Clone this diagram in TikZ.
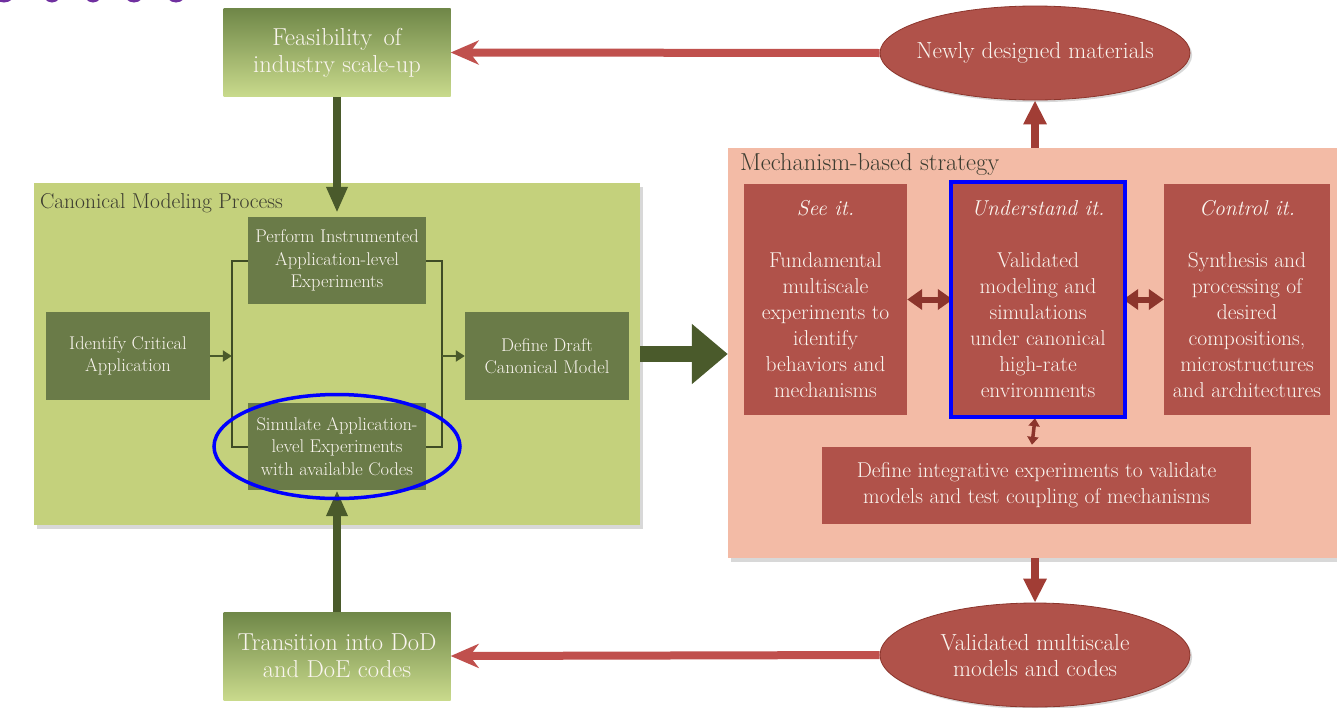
\documentclass[tikz,border=0pt]{standalone}
\usepackage{tikz}
\usetikzlibrary{arrows.meta, shapes.geometric, shadows, fit, calc}

\definecolor{olivebox}{HTML}{6A7B48}
\definecolor{olivearrow}{HTML}{4A5A2B}
\definecolor{olivepanel}{HTML}{C4D17C}
\definecolor{olivetop}{HTML}{6F8748}
\definecolor{olivebottom}{HTML}{C9DA8C}
\definecolor{pinkpanel}{HTML}{F3BBA6}
\definecolor{redfill}{HTML}{B0524A}
\definecolor{redarrow}{HTML}{C0504D}
\definecolor{redvert}{HTML}{A13D35}
\definecolor{darkred}{HTML}{8C352C}
\definecolor{titlepurple}{HTML}{7030A0}
\definecolor{boxtext}{HTML}{FAF5EF}
\definecolor{labeltext}{HTML}{3C3C30}

\begin{document}
\begin{tikzpicture}[x=1pt, y=-1pt,
  panel/.style={inner sep=0pt, drop shadow={shadow xshift=3pt, shadow yshift=-4pt, opacity=0.3}},
  gradbox/.style={top color=olivetop, bottom color=olivebottom, text=boxtext, align=center,
    inner sep=0pt, minimum width=227pt, minimum height=88pt, font=\fontsize{24.5}{27}\selectfont},
  greenbox/.style={fill=olivebox, text=boxtext, align=center, inner sep=0pt,
    font=\fontsize{18.4}{22.5}\selectfont},
  redbox/.style={fill=redfill, text=boxtext, align=center, inner sep=0pt,
    font=\fontsize{21.5}{26}\selectfont},
  oval/.style={ellipse, fill=redfill, draw=darkred, line width=0.8pt, text=boxtext, align=center,
    inner sep=0pt, minimum width=310pt, drop shadow={opacity=0.3}, font=\fontsize{23.3}{26}\selectfont},
  redline/.style={draw=redarrow, line width=8pt, -{Stealth[length=28pt, width=24pt, inset=9pt]}},
  vertline/.style={draw=redvert, line width=8pt, -{Triangle[length=24pt, width=22pt]}},
  oliveline/.style={draw=olivearrow, line width=8pt, -{Triangle[length=26pt, width=20pt]}},
  smallolive/.style={draw=olivearrow, line width=2.5pt, -{Triangle[length=9pt, width=11pt]}},
  bracket/.style={draw=olivearrow!85!black, line width=2pt},
  twoway/.style={draw=darkred, line width=6pt, {Triangle[length=15pt, width=20pt]}-{Triangle[length=15pt, width=20pt]}},
  highlight/.style={draw=blue, line width=4pt}]

\useasboundingbox (0,0) rectangle (1337,707);
\clip (0,0) rectangle (1337,707);
\fill[white] (0,0) rectangle (1337,707);
\foreach \cx/\rx in {4/12, 52/10, 93/10, 134/11, 176/11}
  \fill[titlepurple] (\cx,-9) ellipse [x radius=\rx, y radius=11.5];

\node[panel, fill=olivepanel, minimum width=606pt, minimum height=342pt] (canon) at (337,354) {};
\node[anchor=north west, text=labeltext, font=\fontsize{21.5}{24}\selectfont, inner sep=0pt]
  (canonlabel) at ($(canon.north west)+(6,10)$) {Canonical Modeling Process};
\node[panel, fill=pinkpanel, minimum width=612pt, minimum height=410pt] (mech) at (1034,353) {};
\node[anchor=north west, text=labeltext, font=\fontsize{24.5}{27}\selectfont, inner sep=0pt]
  (mechlabel) at ($(mech.north west)+(12,5)$) {Mechanism-based strategy};

\node[gradbox] (feas) at (337,52.5) {Feasibility\, of\\industry scale-up};
\node[gradbox] (trans) at (337,656) {Transition into DoD\\and DoE codes};

\node[greenbox, minimum width=178pt, minimum height=87pt] (perform) at (337,260.5)
  {Perform Instrumented\\Application-level\\Experiments};
\node[greenbox, minimum width=178pt, minimum height=87pt] (simulate) at (337,446.5)
  {Simulate Application-\\level Experiments\\with available Codes};
\node[greenbox, minimum width=164pt, minimum height=88pt] (identify) at (128,356)
  {Identify Critical\\Application};
\node[greenbox, minimum width=164pt, minimum height=88pt] (draft) at (547,356)
  {Define Draft\\Canonical Model};

\node[redbox, minimum width=163pt, minimum height=231pt] (see) at (825.5,299.5)
  {\textit{See it.}\\[26pt]Fundamental\\multiscale\\experiments to\\identify\\behaviors and\\mechanisms};
\node[redbox, minimum width=170pt, minimum height=231pt] (understand) at (1038,299.5)
  {\textit{Understand it.}\\[26pt]Validated\\modeling and\\simulations\\under canonical\\high-rate\\environments};
\node[redbox, minimum width=166pt, minimum height=231pt] (control) at (1247,299.5)
  {\textit{Control it.}\\[26pt]Synthesis and\\processing of\\desired\\compositions,\\microstructures\\and architectures};
\node[redbox, minimum width=429pt, minimum height=77pt] (integ) at (1036.5,485.5)
  {Define integrative experiments to validate\\models and test coupling of mechanisms};

\node[oval, minimum height=94pt, inner xsep=-10pt] (newly) at (1035,53) {Newly designed materials};
\node[oval, minimum height=104pt] (valid) at (1035,655) {Validated multiscale\\models and codes};

\coordinate (bl) at ($(perform.west)+(-16,0)$);
\coordinate (br) at ($(perform.east)+(16,0)$);
\draw[bracket] (perform.west) -- (bl) |- (simulate.west);
\draw[bracket] (perform.east) -- (br) |- (simulate.east);
\draw[smallolive] (identify.east) -- (identify.east -| bl);
\draw[smallolive] (br |- draft.west) -- (draft.west);

\draw[oliveline] (feas.south) -- ($(perform.north)+(0,-4)$);
\draw[oliveline] (trans.north) -- (simulate.south);
\draw[draw=olivearrow, line width=16pt, -{Triangle[length=36pt, width=58pt]}]
  (canon.east) -- (mech.west |- canon.east);

\draw[redline] (newly.west) -- (feas.east);
\draw[redline] (valid.west) -- (trans.east);
\draw[vertline] (newly.south |- mech.north) -- (newly.south);
\draw[vertline] (valid.north |- mech.south) -- (valid.north);

\draw[twoway] (see.east) -- (understand.west);
\draw[twoway] (understand.east) -- (control.west);
\draw[draw=darkred, line width=3.5pt, {Triangle[length=8pt, width=11pt]}-{Triangle[length=8pt, width=11pt]}]
  ($(understand.south)+(-3,3)$) -- ($(integ.north)+(-4.5,-2)$);

\node[highlight, fit=(understand), inner sep=1.5pt] (focus) {};
\node[highlight, ellipse, line width=3.5pt, minimum width=246pt, minimum height=104pt] (simfocus) at (simulate) {};
\end{tikzpicture}
\end{document}
